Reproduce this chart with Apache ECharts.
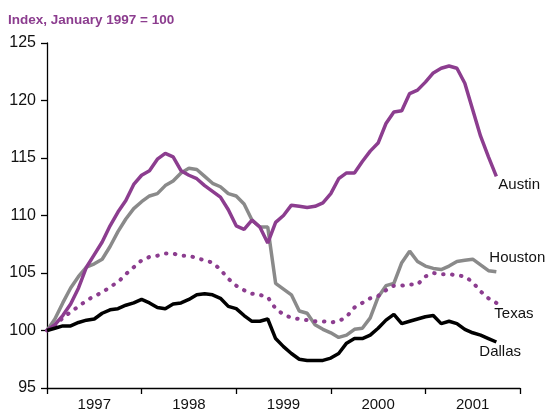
<!DOCTYPE html>
<html>
<head>
<meta charset="utf-8">
<script src="https://cdn.jsdelivr.net/npm/echarts@6/dist/echarts.min.js"></script>
<style>
  html, body { margin: 0; padding: 0; background: #fff; }
  #chart { width: 547px; height: 412px; }
</style>
</head>
<body>
<div id="chart"></div>
<script>
// monthly index, Jan 1997 = 100 (month 0) through Oct 2001 (month 57)
var years = ['1997', '1998', '1999', '2000', '2001'];

var austin = [
  100, 100.5, 101.3, 102.3, 103.7, 105.5, 106.6, 107.7, 109.1, 110.3, 111.3, 112.7,
  113.5, 113.9, 114.9, 115.4, 115.1, 113.9, 113.5, 113.2, 112.6, 112.1, 111.6, 110.5,
  109.1, 108.8, 109.6, 109.0, 107.6, 109.4, 110.0, 110.9, 110.8, 110.7, 110.8, 111.1,
  111.9, 113.2, 113.7, 113.7, 114.7, 115.6, 116.3, 118.0, 119.0, 119.1, 120.6, 120.9,
  121.6, 122.4, 122.8, 123.0, 122.8, 121.5, 119.2, 116.9, 115.1, 113.4
];
var houston = [
  100, 101.0, 102.4, 103.7, 104.7, 105.5, 105.8, 106.2, 107.3, 108.6, 109.7, 110.6,
  111.2, 111.7, 111.9, 112.6, 113.0, 113.7, 114.1, 114.0, 113.4, 112.8, 112.5, 111.9,
  111.7, 111.0, 109.6, 109.0, 109.0, 104.1, 103.6, 103.1, 101.7, 101.5, 100.5, 100.1,
  99.8, 99.4, 99.6, 100.1, 100.2, 101.1, 102.9, 103.9, 104.1, 105.9, 106.9, 106.0,
  105.6, 105.4, 105.3, 105.6, 106.0, 106.1, 106.2, 105.7, 105.2, 105.1
];
var texas = [
  100, 100.4, 101.1, 101.6, 102.1, 102.6, 103.0, 103.3, 103.8, 104.2, 104.9, 105.5,
  106.1, 106.4, 106.5, 106.7, 106.7, 106.5, 106.5, 106.3, 106.1, 105.9, 105.3, 104.5,
  103.9, 103.5, 103.2, 103.1, 102.9, 101.9, 101.4, 101.1, 101.0, 100.9, 100.8, 100.8,
  100.7, 100.8, 101.2, 102.0, 102.4, 102.8, 103.0, 103.5, 103.9, 103.9, 104.0, 104.0,
  104.7, 105.0, 104.9, 104.9, 104.8, 104.7, 104.2, 103.4, 102.8, 102.4
];
var dallas = [
  100, 100.2, 100.4, 100.4, 100.7, 100.9, 101.0, 101.5, 101.8, 101.9, 102.2, 102.4,
  102.7, 102.4, 102.0, 101.9, 102.3, 102.4, 102.7, 103.1, 103.2, 103.1, 102.8, 102.1,
  101.9, 101.3, 100.8, 100.8, 101.0, 99.3, 98.6, 98.0, 97.5, 97.4, 97.4, 97.4,
  97.6, 98.0, 98.9, 99.3, 99.3, 99.6, 100.2, 100.9, 101.4, 100.6, 100.8, 101.0,
  101.2, 101.3, 100.6, 100.8, 100.6, 100.1, 99.8, 99.6, 99.3, 99.0
];

function pairs(arr) {
  return arr.map(function (v, i) { return [i, v]; });
}

var font = 'Liberation Sans, Arial, sans-serif';
var purple = '#8c3d8f';

function endLabel(name, offset) {
  return {
    show: true,
    formatter: name,
    color: '#111',
    fontFamily: font,
    fontSize: 15,
    distance: 0,
    offset: offset
  };
}

var chart = echarts.init(document.getElementById('chart'));
chart.setOption({
  animation: false,
  backgroundColor: '#fff',
  title: {
    text: 'Index, January 1997 = 100',
    left: 3,
    top: 8,
    textStyle: { color: purple, fontFamily: font, fontSize: 13.5, fontWeight: 'bold' }
  },
  grid: { left: 47, right: 27, top: 43, bottom: 23 },
  xAxis: [
    {
      type: 'value',
      min: 0,
      max: 60,
      interval: 12,
      position: 'bottom',
      axisLine: { lineStyle: { color: '#000', width: 1.3 } },
      axisTick: { show: true, inside: false, length: 6, lineStyle: { color: '#000', width: 1.3 } },
      axisLabel: { show: false },
      splitLine: { show: false }
    },
    {
      type: 'category',
      data: years,
      boundaryGap: true,
      position: 'bottom',
      axisLine: { show: false },
      axisTick: { show: false },
      axisLabel: { color: '#111', fontFamily: font, fontSize: 15, margin: 9 },
      splitLine: { show: false }
    }
  ],
  yAxis: {
    type: 'value',
    min: 95,
    max: 125,
    interval: 5,
    axisLine: { show: true, lineStyle: { color: '#000', width: 1.3 } },
    axisTick: { show: true, inside: false, length: 6, lineStyle: { color: '#000', width: 1.3 } },
    axisLabel: { color: '#111', fontFamily: font, fontSize: 16, margin: 11 },
    splitLine: { show: false }
  },
  series: [
    {
      name: 'Houston',
      type: 'line',
      data: pairs(houston),
      showSymbol: false,
      lineStyle: { color: '#8a8a8a', width: 3.5 },
      endLabel: endLabel('Houston', [-7, -14])
    },
    {
      name: 'Austin',
      type: 'line',
      data: pairs(austin),
      showSymbol: false,
      lineStyle: { color: purple, width: 3.5 },
      endLabel: endLabel('Austin', [2, 8])
    },
    {
      name: 'Texas',
      type: 'line',
      data: pairs(texas),
      showSymbol: false,
      lineStyle: { color: purple, width: 4, type: [0.5, 8.5], cap: 'round' },
      endLabel: endLabel('Texas', [-2, 11])
    },
    {
      name: 'Dallas',
      type: 'line',
      data: pairs(dallas),
      showSymbol: false,
      lineStyle: { color: '#000', width: 3.5 },
      endLabel: endLabel('Dallas', [-17, 10])
    }
  ]
});
</script>
</body>
</html>
